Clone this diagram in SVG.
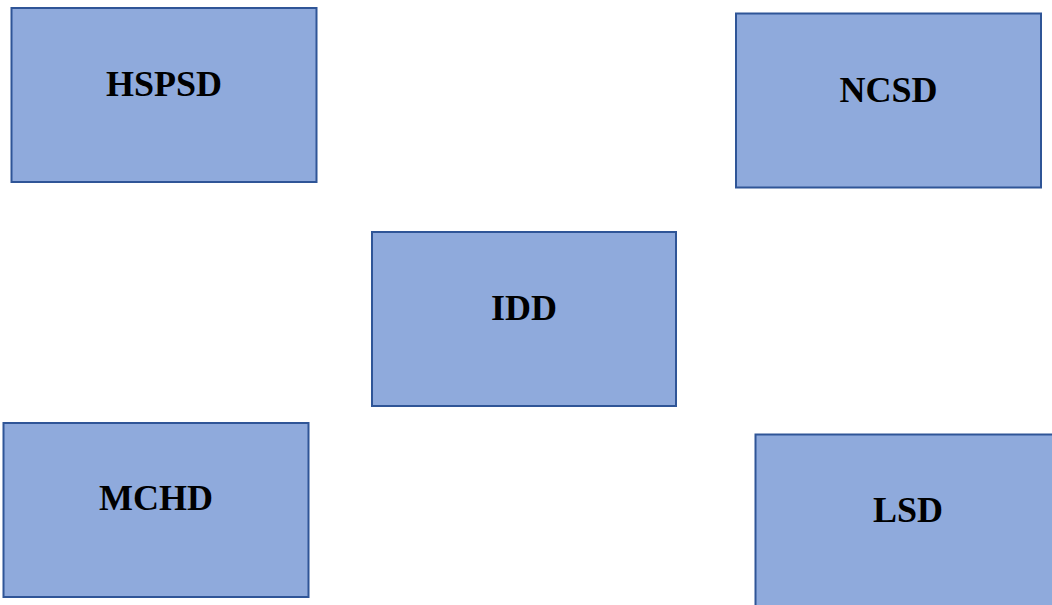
<svg xmlns="http://www.w3.org/2000/svg" width="1052" height="605" viewBox="0 0 1052 605">
<style>
.box{fill:#8FAADC;stroke:#2F5597;stroke-width:2}
.lbl{font-family:"Liberation Serif","Times New Roman",serif;font-weight:bold;font-size:36px;fill:#000;text-anchor:middle}
</style>
<rect width="1052" height="605" fill="#fff"/>
<g id="connectors"></g>
<g id="HSPSD"><rect class="box" x="11.5" y="8" width="305" height="174"/><text class="lbl" x="164" y="96">HSPSD</text></g>
<g id="NCSD"><rect class="box" x="736" y="13.5" width="305" height="174"/><text class="lbl" x="888.5" y="102">NCSD</text></g>
<g id="IDD"><rect class="box" x="372" y="232" width="304" height="174"/><text class="lbl" x="524" y="320">IDD</text></g>
<g id="MCHD"><rect class="box" x="3.5" y="423" width="305" height="174"/><text class="lbl" x="156" y="510">MCHD</text></g>
<g id="LSD"><rect class="box" x="755.5" y="434.5" width="305" height="174"/><text class="lbl" x="908" y="522">LSD</text></g>
</svg>
